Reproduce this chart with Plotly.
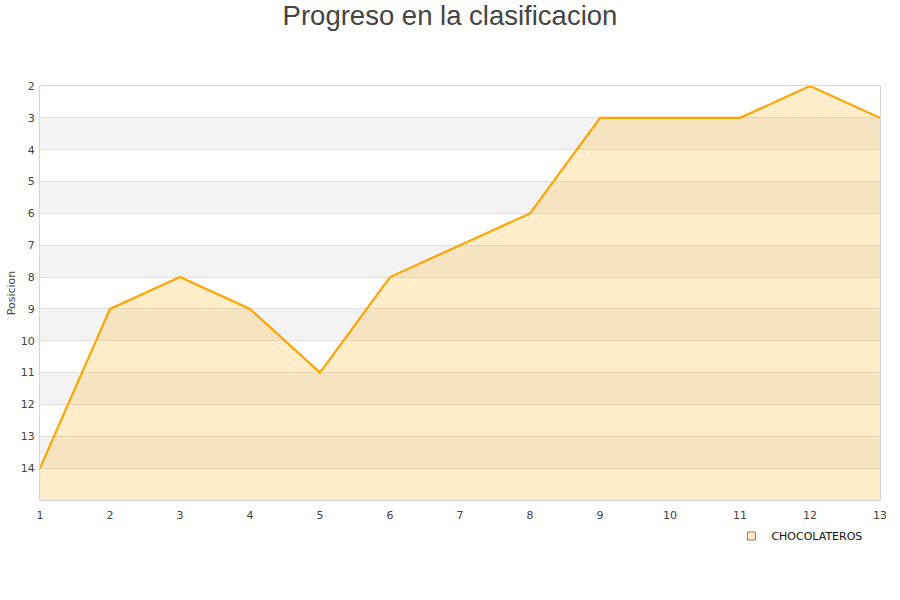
import plotly.graph_objects as go

jornadas = list(range(1, 14))
posicion = [14, 9, 8, 9, 11, 8, 7, 6, 3, 3, 3, 2, 3]
team = "CHOCOLATEROS"
y_top, y_bottom = 2, 15

fig = go.Figure()

shapes = []
for v in range(3, 15, 2):
    shapes.append(dict(type="rect", xref="paper", yref="y", x0=0, x1=1, y0=v, y1=v + 1,
                       fillcolor="#f3f3f3", line_width=0, layer="below"))

fig.add_trace(go.Scatter(x=jornadas, y=[y_bottom] * len(jornadas), mode="lines",
                         line=dict(width=0), showlegend=False, hoverinfo="skip"))
fig.add_trace(go.Scatter(x=jornadas, y=posicion, mode="lines", name=team, showlegend=False,
                         line=dict(color="#FFA500", width=2.2),
                         fill="tonexty", fillcolor="rgba(255,165,0,0.2)"))
fig.add_trace(go.Scatter(x=[None], y=[None], mode="markers", name=team,
                         marker=dict(symbol="square", size=8, color="#ffecc9",
                                     line=dict(color="#8a7a5a", width=1))))

fig.update_layout(
    width=900, height=600,
    paper_bgcolor="white", plot_bgcolor="white",
    margin=dict(l=40, r=20, t=86, b=100),
    title=dict(text="Progreso en la clasificacion", x=0.5, xanchor="center", y=0.975, yanchor="middle",
               font=dict(family="Liberation Sans, Arial", size=27.5, color="#444")),
    shapes=shapes,
    showlegend=True,
    legend=dict(x=0.985, xanchor="right", y=-0.087, yanchor="middle", orientation="h",
                font=dict(family="DejaVu Sans", size=11, color="#111"), bgcolor="rgba(0,0,0,0)",
                itemwidth=30),
    font=dict(family="DejaVu Sans", size=11, color="#444"),
)
fig.update_xaxes(range=[1, 13], tickvals=jornadas, showgrid=False, zeroline=False, automargin=False,
                 showline=True, linecolor="#d8d8d8", mirror=True, ticks="outside", ticklen=5,
                 tickcolor="rgba(0,0,0,0)",
                 tickfont=dict(size=11, color="#444"))
fig.update_yaxes(range=[y_bottom, y_top], tickvals=list(range(2, 15)), showgrid=True, automargin=False,
                 gridcolor="#e0e0e0", zeroline=False, showline=True, linecolor="#d8d8d8", mirror=True,
                 ticks="outside", ticklen=2, tickcolor="rgba(0,0,0,0)",
                 tickfont=dict(size=11, color="#444"),
                 title=dict(text="Posicion", font=dict(size=11, color="#444"), standoff=2))

fig.write_html("out.html", config={"displayModeBar": False},
               post_script="document.body.style.margin='0';")
